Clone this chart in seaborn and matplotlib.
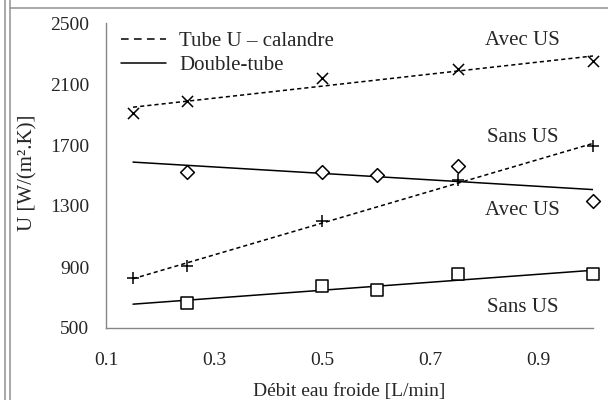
import seaborn as sns
import matplotlib.pyplot as plt
import matplotlib.lines as mlines
import pandas as pd
import numpy as np

# Data
debit = [0.15, 0.25, 0.5, 0.75, 1.0]
tubeU_avec = [1910, 1990, 2140, 2198, 2252]
tubeU_sans = [828, 906, 1202, 1470, 1693]

debit_dt = [0.25, 0.5, 0.6, 0.75, 1.0]
dt_avec = [1523, 1520, 1503, 1562, 1333]
dt_sans = [664, 775, 749, 854, 854]

x_trend = [0.15, 1.0]

sns.set_style('white')
plt.rcParams['font.family'] = ['Liberation Serif', 'DejaVu Serif']
FS_AX = 14
FS_TXT = 15

fig = plt.figure(figsize=(6.08, 4.0), dpi=100)
ax = fig.add_axes([0.1743, 0.18, 0.8010, 0.7625])

series = [
    (debit, tubeU_avec, 'x', '--', 8),
    (debit, tubeU_sans, '+', '--', 9),
    (debit_dt, dt_avec, 'D', '-', 7),
    (debit_dt, dt_sans, 's', '-', 8),
]
for xs, ys, mk, ls, ms in series:
    df = pd.DataFrame({'x': xs, 'y': ys})
    # Excel-style linear trendline, drawn over 0.15 - 1.0
    a, b = np.polyfit(df['x'], df['y'], 1)
    tr = pd.DataFrame({'x': x_trend, 'y': [a * v + b for v in x_trend]})
    sns.lineplot(data=tr, x='x', y='y', ax=ax, color='black', lw=1.1,
                 linestyle=ls, dashes=False)
    if ls == '--':
        ax.lines[-1].set_dashes([2.7, 2.0])
    if mk in ('x', '+'):
        sns.scatterplot(data=df, x='x', y='y', ax=ax, marker=mk, s=ms ** 2,
                        color='black', linewidth=1.1, zorder=5, clip_on=False)
    else:
        sns.scatterplot(data=df, x='x', y='y', ax=ax, marker=mk, s=ms ** 2,
                        facecolor='white', edgecolor='black', linewidth=1.1,
                        zorder=5, clip_on=False)

ax.set_xlim(0.1, 1.0)
ax.set_ylim(500, 2500)
ax.set_xticks([0.1, 0.3, 0.5, 0.7, 0.9])
ax.set_yticks([500, 900, 1300, 1700, 2100, 2500])
ax.set_xticklabels(['0.1', '0.3', '0.5', '0.7', '0.9'])
ax.set_xlabel('Débit eau froide [L/min]', fontsize=FS_AX, labelpad=10)
ax.set_ylabel('U [W/(m².K)]', fontsize=FS_TXT)
ax.yaxis.set_label_coords(-0.14, 0.51)

sns.despine(ax=ax)
for s in ['left', 'bottom']:
    ax.spines[s].set_color('#868686')
    ax.spines[s].set_linewidth(1.0)
ax.tick_params(axis='both', direction='out', length=5, width=1,
               color='#868686', labelsize=FS_AX)
ax.tick_params(axis='x', pad=12.5)
ax.tick_params(axis='y', pad=7)

# text labels next to the series
ax.text(0.87, 2387, 'Avec US', ha='center', va='center', fontsize=FS_TXT)
ax.text(0.87, 1752, 'Sans US', ha='center', va='center', fontsize=FS_TXT)
ax.text(0.87, 1272, 'Avec US', ha='center', va='center', fontsize=FS_TXT)
ax.text(0.87, 632, 'Sans US', ha='center', va='center', fontsize=FS_TXT)

h1 = mlines.Line2D([], [], color='black', lw=1.1, linestyle=(0, (5, 3.5)))
h2 = mlines.Line2D([], [], color='black', lw=1.1)
ax.legend([h1, h2], ['Tube U – calandre', 'Double-tube'], loc='upper left',
          bbox_to_anchor=(0.0, 1.02), frameon=False, fontsize=FS_TXT,
          handlelength=2.2, handletextpad=0.62, labelspacing=0.2,
          borderaxespad=0.3)

# chart frame lines around the picture
for xv in [5 / 608, 10 / 608]:
    fig.add_artist(mlines.Line2D([xv, xv], [0, 1], color='#9a9a9a', lw=1.2))
fig.add_artist(mlines.Line2D([10 / 608, 1], [1 - 8 / 400] * 2,
                             color='#9a9a9a', lw=1.2))

fig.savefig('out.png', dpi=100)
